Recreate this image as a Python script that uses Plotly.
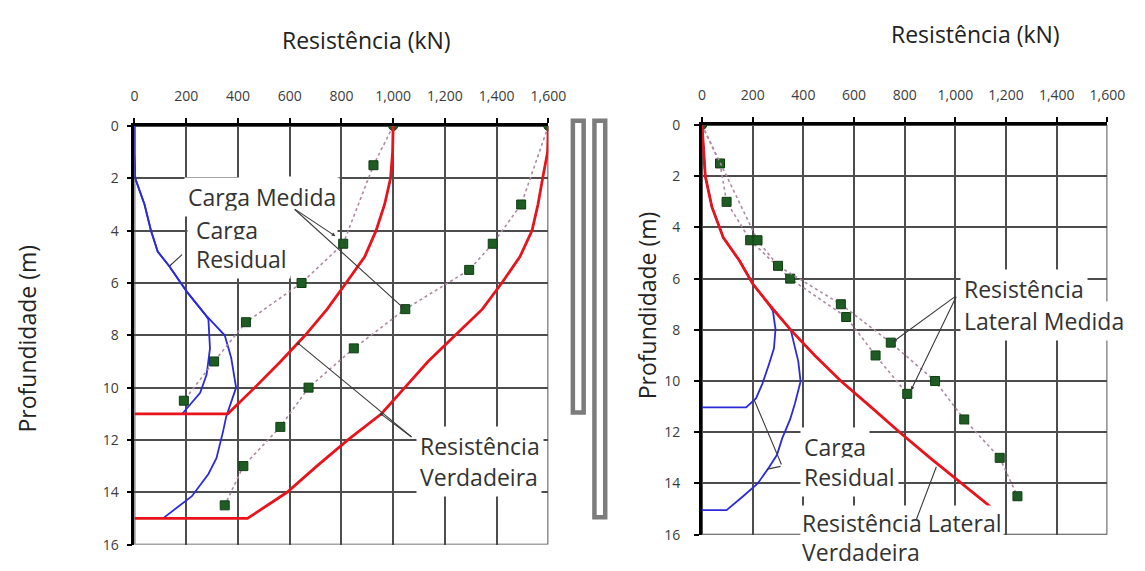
import plotly.graph_objects as go

# ---------------- left panel: load along two piles (11 m and 15 m) ----------------
# measured load (Carga Medida)
prof_med_a = [0, 1.5, 4.5, 6, 7.5, 9, 10.5]
carga_med_a = [1000, 924, 807, 646, 431, 308, 191]
prof_med_b = [0, 3, 4.5, 5.5, 7, 8.5, 10, 11.5, 13, 14.5]
carga_med_b = [1600, 1495, 1385, 1294, 1047, 848, 673, 564, 421, 349]

# true resistance (Resistência Verdadeira)
prof_verd_a = [0, 1, 2, 3, 4, 5, 6, 7, 8, 9, 10, 11, 11]
res_verd_a = [1000, 998, 990, 967, 934, 890, 818, 745, 660, 565, 465, 361, 0]
prof_verd_b = [0, 1, 2, 3, 4, 5, 6, 7, 8, 9, 10, 11, 12, 13, 14, 15, 15]
res_verd_b = [1600, 1597, 1578, 1560, 1537, 1490, 1420, 1345, 1240, 1135, 1045, 955, 825, 705, 590, 437, 0]

# residual load (Carga Residual)
prof_resid_a = [0, 1, 2, 3, 4, 4.8, 5.35, 6.34, 7.2, 7.4, 8.5, 9.5, 10.2, 11.0]
carga_resid_a = [0, 0, 3, 39, 64, 90, 134, 203, 273, 286, 292, 279, 254, 185]
prof_resid_b = [0, 1, 2, 3, 4, 4.8, 5.35, 6.34, 7.2, 8.0, 8.86, 10.0, 11.1, 11.7, 12.7, 13.3, 14.15, 14.96]
carga_resid_b = [0, 0, 3, 39, 64, 90, 134, 203, 273, 349, 374, 393, 355, 342, 317, 286, 222, 115]

# pile lengths (m)
comprimentos = [11, 15]

# ---------------- right panel: shaft resistance ----------------
prof_lat_a = [0, 1.5, 3, 4.5, 6, 7.5, 9, 10.5]
res_lat_a = [0, 71, 97, 190, 348, 569, 685, 810]
prof_lat_b = [0, 4.5, 5.5, 7, 8.5, 10, 11.5, 13, 14.5]
res_lat_b = [0, 219, 300, 548, 745, 920, 1035, 1175, 1245]

prof_lat_verd = [0, 1, 2, 3.2, 4.4, 5.3, 6.2, 7, 8, 9, 10, 11, 12, 13, 14, 15]
res_lat_verd = [0, 5, 13, 39, 84, 148, 200, 264, 350, 445, 548, 665, 780, 900, 1025, 1150]

prof_lat_resid_a = [0, 1, 2, 3.2, 4.4, 5.3, 6.2, 7.0, 7.28, 7.97, 8.72, 9.35, 10.11, 10.68, 11.03, 11.03]
carga_lat_resid_a = [0, 5, 13, 39, 84, 148, 200, 264, 280, 290, 284, 264, 238, 213, 174, 0]
prof_lat_resid_b = [0, 1, 2, 3.2, 4.4, 5.3, 6.2, 7.0, 8.0, 9.23, 10.02, 10.87, 11.49, 12.25, 12.88, 13.38, 14.01, 14.51, 15.04, 15.04]
carga_lat_resid_b = [0, 5, 13, 39, 84, 148, 200, 264, 350, 380, 389, 367, 348, 316, 296, 264, 219, 161, 97, 0]

# axis ticks
x_ticks = [0, 200, 400, 600, 800, 1000, 1200, 1400, 1600]
x_tick_text = ["0", "200", "400", "600", "800", "1,000", "1,200", "1,400", "1,600"]
y_ticks = [0, 2, 4, 6, 8, 10, 12, 14, 16]

W, H = 1145, 571
FONT = "Open Sans"
RED = "#e8141c"
BLUE = "#2b2bdc"
GREEN = "#1e5c23"
DOT = "#ad8aa4"
GRID = "#4d4d4d"
TXT = "#333333"


def px_x(p):
    return p / W


def px_y(p):
    return 1 - p / H


# vertical extents of the two panels (paper coordinates)
Y1_DOM = [px_y(553), px_y(120)]
Y2_DOM = [px_y(542.7), px_y(119)]
X2_DOM = [px_x(711.7), px_x(1125)]


def depth_to_paper(d, dom):
    # depth axis runs from 0 (top) to 16 (bottom)
    return dom[1] - d / 16 * (dom[1] - dom[0])


fig = go.Figure()


def marker_symbols(depths):
    return ["circle" if d == 0 else "square" for d in depths]


def add_measured(x, y, xa, ya):
    fig.add_trace(go.Scatter(
        x=x, y=y, xaxis=xa, yaxis=ya, mode="lines+markers",
        line=dict(color=DOT, width=1.6, dash="dot"),
        marker=dict(symbol=marker_symbols(y), size=9, color=GREEN,
                    line=dict(color="#0f3d12", width=1)),
        showlegend=False, hoverinfo="skip"))


def add_line(x, y, xa, ya, color, width):
    fig.add_trace(go.Scatter(
        x=x, y=y, xaxis=xa, yaxis=ya, mode="lines",
        line=dict(color=color, width=width),
        showlegend=False, hoverinfo="skip"))


# left panel traces
add_line(carga_resid_a, prof_resid_a, "x", "y", BLUE, 1.8)
add_line(carga_resid_b, prof_resid_b, "x", "y", BLUE, 1.8)
add_measured(carga_med_a, prof_med_a, "x", "y")
add_measured(carga_med_b, prof_med_b, "x", "y")
add_line(res_verd_a, prof_verd_a, "x", "y", RED, 2.8)
add_line(res_verd_b, prof_verd_b, "x", "y", RED, 2.8)

# right panel traces
add_line(carga_lat_resid_a, prof_lat_resid_a, "x2", "y2", BLUE, 1.8)
add_line(carga_lat_resid_b, prof_lat_resid_b, "x2", "y2", BLUE, 1.8)
add_measured(res_lat_a, prof_lat_a, "x2", "y2")
add_measured(res_lat_b, prof_lat_b, "x2", "y2")
add_line(res_lat_verd, prof_lat_verd, "x2", "y2", RED, 2.8)


def x_axis(domain, anchor, standoff):
    return dict(domain=domain, anchor=anchor, side="top", range=[0, 1600],
                tickmode="array", tickvals=x_ticks, ticktext=x_tick_text,
                showgrid=True, gridcolor=GRID, gridwidth=1.9, zeroline=False,
                showline=True, linecolor="black", linewidth=2.8,
                ticks="outside", ticklen=5, tickwidth=2, tickcolor="black",
                ticklabelstandoff=standoff,
                tickfont=dict(family=FONT, size=14, color="#3c3c3c"),
                layer="below traces", fixedrange=True)


def y_axis(domain, anchor, standoff):
    return dict(domain=domain, anchor=anchor, range=[16, 0],
                tickmode="array", tickvals=y_ticks,
                showgrid=True, gridcolor=GRID, gridwidth=1.9, zeroline=False,
                showline=True, linecolor="black", linewidth=2.8,
                ticks="outside", ticklen=5, tickwidth=2, tickcolor="black",
                ticklabelstandoff=standoff,
                tickfont=dict(family=FONT, size=14, color="#3c3c3c"),
                layer="below traces", fixedrange=True)


fig.update_layout(
    width=W, height=H,
    margin=dict(l=0, r=0, t=0, b=0),
    paper_bgcolor="white", plot_bgcolor="white",
    font=dict(family=FONT, color=TXT),
    xaxis=x_axis([px_x(133), px_x(555)], "y", 12),
    yaxis=y_axis(Y1_DOM, "x", 5),
    xaxis2=x_axis(X2_DOM, "y2", 12),
    yaxis2=y_axis(Y2_DOM, "x2", 11),
)

shapes = []
# plot frames (right and bottom edges in grid colour)
for xr, yr in (("x", "y"), ("x2", "y2")):
    shapes.append(dict(type="rect", xref=xr, yref=yr, x0=0, x1=1600, y0=16, y1=0,
                       line=dict(color=GRID, width=1.9), layer="below"))
# white label backgrounds over the grid in the left panel
shapes.append(dict(type="rect", xref="x", yref="y", x0=405, x1=785, y0=1.93, y1=5.72,
                   fillcolor="white", line=dict(width=0), layer="between"))
shapes.append(dict(type="rect", xref="x", yref="y", x0=205, x1=405, y0=2.05, y1=5.6,
                   fillcolor="white", line=dict(width=0), layer="between"))
# pile sketches beside the left panel
pile_x = [(580, 591), (602, 613)]
for (x0, x1), comp in zip(pile_x, comprimentos):
    shapes.append(dict(type="rect", xref="paper", yref="paper",
                       x0=px_x(x0), x1=px_x(x1),
                       y0=depth_to_paper(-0.2, Y1_DOM),
                       y1=depth_to_paper(comp - 0.05, Y1_DOM),
                       fillcolor="white",
                       line=dict(color="#7c7c7c", width=4.5), layer="above"))
fig.update_layout(shapes=shapes)

ann = []
LABEL_SIZE = 23


def label(text, x, y, xr, yr, pad=3):
    ann.append(dict(text=text, x=x, y=y, xref=xr, yref=yr, showarrow=False,
                    xanchor="left", yanchor="middle", bgcolor="white", borderpad=pad,
                    font=dict(family=FONT, size=LABEL_SIZE, color=TXT)))


def pointer(x_from, y_from, x_to, y_to, xr, yr, head=2):
    ann.append(dict(text="", x=x_to, y=y_to, ax=x_from, ay=y_from, xref=xr, yref=yr,
                    axref=xr, ayref=yr, showarrow=True, arrowhead=head,
                    arrowsize=0.7, arrowwidth=1.1, arrowcolor="#3a3a3a"))


# left panel labels
label("Carga Medida", 190, 2.7, "x", "y")
label("Carga", 222, 3.96, "x", "y")
label("Residual", 222, 5.10, "x", "y")
label("Resistência", 1090, 12.25, "x", "y")
label("Verdadeira", 1090, 13.41, "x", "y")
pointer(614, 3.14, 777, 4.21, "x", "y")
pointer(614, 3.14, 1042, 6.98, "x", "y")
pointer(190, 4.86, 136, 5.35, "x", "y", head=0)
pointer(1077, 11.93, 633, 8.31, "x", "y", head=6)
pointer(1077, 11.93, 955, 11.02, "x", "y", head=6)

# right panel labels
label("Resistência", 1020, 6.39, "x2", "y2")
label("Lateral Medida", 1020, 7.65, "x2", "y2")
label("Carga", 388, 12.57, "x2", "y2")
label("Residual", 388, 13.75, "x2", "y2")
label("Resistência Lateral", 388, 15.55, "x2", "y2", pad=1)
ann.append(dict(text="Verdadeira", x=X2_DOM[0] + 388 / 1600 * (X2_DOM[1] - X2_DOM[0]),
                y=depth_to_paper(16.66, Y2_DOM), xref="paper", yref="paper",
                showarrow=False, xanchor="left", yanchor="middle", bgcolor="white",
                borderpad=1, font=dict(family=FONT, size=LABEL_SIZE, color=TXT)))
pointer(1006, 6.65, 754, 8.47, "x2", "y2")
pointer(1006, 6.65, 825, 10.36, "x2", "y2")
pointer(316, 13.32, 206, 10.74, "x2", "y2", head=0)
pointer(316, 13.32, 258, 13.44, "x2", "y2", head=0)
pointer(844, 15.46, 925, 13.35, "x2", "y2", head=0)

# axis titles
for txt, x, y, ang in (("Resistência (kN)", 370, 30.7, 0),
                       ("Resistência (kN)", 991, 25, 0),
                       ("Profundidade (m)", 23.3, 340, -90),
                       ("Profundidade (m)", 655, 305, -90)):
    ann.append(dict(text=txt, x=px_x(x), y=px_y(y), xref="paper", yref="paper",
                    showarrow=False, xanchor="center", yanchor="middle", textangle=ang,
                    font=dict(family=FONT, size=23, color="#222222")))

fig.update_layout(annotations=ann)

fig.write_html("out.html")
